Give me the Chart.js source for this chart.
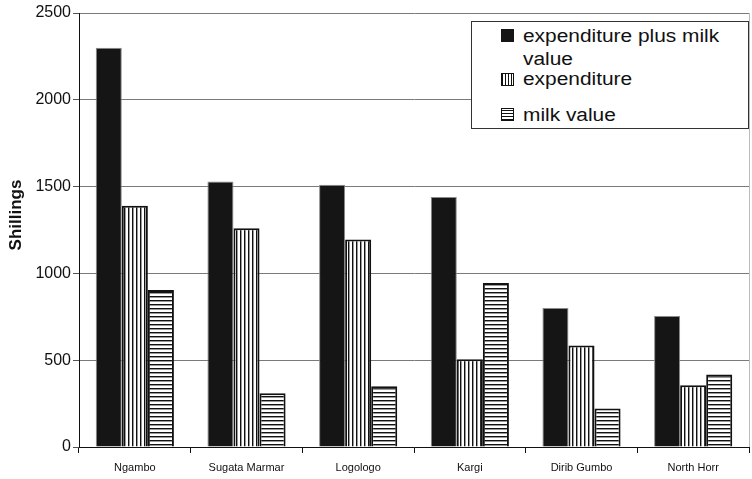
<!DOCTYPE html>
<html lang="en">
    <head>
        <meta charset="UTF-8" />
        <title>Shillings by site</title>
        <script src="https://cdn.jsdelivr.net/npm/chart.js"></script>
        <style>
            body {
                margin: 0;
                background: #fff;
            }
            #wrap {
                position: relative;
                width: 752px;
                height: 479px;
            }
            #legend {
                position: absolute;
                left: 471px;
                top: 21px;
                width: 276px;
                height: 106px;
                border: 1px solid #333;
                background: #fff;
                font-family: "Liberation Sans", Arial, sans-serif;
                font-size: 18px;
                color: #111;
            }
            #legend .txt {
                position: absolute;
                left: 51px;
                line-height: 18px;
                white-space: nowrap;
                transform: scaleX(1.16);
                transform-origin: left;
            }
            #legend .sw {
                position: absolute;
                left: 29px;
                width: 13px;
                height: 13px;
                box-sizing: border-box;
            }
        </style>
    </head>
    <body>
        <div id="wrap">
            <canvas id="myChart" width="752" height="479"></canvas>
            <div id="legend">
                <div class="sw" style="top: 7px; background: #151515"></div>
                <div class="txt" style="top: 5px">expenditure plus milk</div>
                <div class="txt" style="top: 28px">value</div>
                <div class="sw" style="top: 51px; border: 1px solid #111; background: repeating-linear-gradient(90deg, #111 0 1px, #fff 1px 3px)"></div>
                <div class="txt" style="top: 48px">expenditure</div>
                <div class="sw" style="top: 86px; border: 1px solid #111; background: repeating-linear-gradient(0deg, #111 0 1px, #fff 1px 3px)"></div>
                <div class="txt" style="top: 84px">milk value</div>
            </div>
        </div>
        <script>
            // values
            const sites = ["Ngambo", "Sugata Marmar", "Logologo", "Kargi", "Dirib Gumbo", "North Horr"];
            const totalValues = [2300, 1530, 1510, 1440, 800, 755];
            const expenditureValues = [1390, 1260, 1195, 505, 585, 355];
            const milkValues = [905, 310, 350, 945, 222, 418];
            const yTicks = [0, 500, 1000, 1500, 2000, 2500];
            const yTitle = "Shillings";

            // stripe fills
            function stripes(vertical) {
                const tile = document.createElement("canvas");
                tile.width = 4;
                tile.height = 4;
                const t = tile.getContext("2d");
                t.fillStyle = "#fff";
                t.fillRect(0, 0, 4, 4);
                t.fillStyle = "#111";
                if (vertical) t.fillRect(0, 0, 1, 4);
                else t.fillRect(0, 0, 4, 1);
                t.fillStyle = "#999";
                if (vertical) t.fillRect(1, 0, 1, 4);
                else t.fillRect(0, 1, 4, 1);
                return t.createPattern(tile, "repeat");
            }

            // right border line and the axis title
            const frame = {
                id: "frame",
                afterDraw(chart) {
                    const { ctx, chartArea } = chart;
                    ctx.save();
                    ctx.strokeStyle = "#bbb";
                    ctx.lineWidth = 1;
                    ctx.beginPath();
                    ctx.moveTo(chartArea.right + 0.5, chartArea.top);
                    ctx.lineTo(chartArea.right + 0.5, chartArea.bottom);
                    ctx.stroke();
                    ctx.translate(16, 215);
                    ctx.rotate(-Math.PI / 2);
                    ctx.fillStyle = "#111";
                    ctx.font = 'bold 17px "Liberation Sans", Arial, sans-serif';
                    ctx.textAlign = "center";
                    ctx.textBaseline = "middle";
                    ctx.fillText(yTitle, 0, 0);
                    ctx.restore();
                },
            };

            Chart.defaults.font.family = '"Liberation Sans", Arial, sans-serif';
            Chart.defaults.color = "#111";

            const ctx = document.getElementById("myChart").getContext("2d");
            const myChart = new Chart(ctx, {
                type: "bar",
                data: {
                    labels: sites,
                    datasets: [
                        {
                            label: "expenditure plus milk value",
                            data: totalValues,
                            backgroundColor: "#151515",
                            borderColor: "#8a8a8a",
                            borderWidth: 1,
                        },
                        {
                            label: "expenditure",
                            data: expenditureValues,
                            backgroundColor: stripes(true),
                            borderColor: "#111",
                            borderWidth: 2,
                        },
                        {
                            label: "milk value",
                            data: milkValues,
                            backgroundColor: stripes(false),
                            borderColor: "#111",
                            borderWidth: 2,
                        },
                    ],
                },
                options: {
                    responsive: false,
                    animation: false,
                    layout: { padding: { top: 13, right: 3, left: 0, bottom: 0 } },
                    datasets: {
                        bar: { barPercentage: 1, categoryPercentage: 0.7 },
                    },
                    plugins: {
                        legend: { display: false },
                        tooltip: { enabled: false },
                    },
                    scales: {
                        x: {
                            afterFit: (s) => { s.height = 32; },
                            border: { color: "#111", width: 1 },
                            grid: {
                                offset: true,
                                drawOnChartArea: false,
                                drawTicks: true,
                                tickLength: 6,
                                tickColor: "#111",
                            },
                            ticks: { font: { size: 11 }, padding: 8, maxRotation: 0 },
                        },
                        y: {
                            min: 0,
                            max: 2500,
                            afterFit: (s) => { s.width = 79; },
                            afterBuildTicks: (s) => { s.ticks = yTicks.map((v) => ({ value: v })); },
                            border: { color: "#111", width: 1 },
                            grid: {
                                color: "#7a7a7a",
                                tickLength: 6,
                                tickColor: "#555",
                            },
                            ticks: {
                                font: { size: 16 },
                                padding: 2,
                                callback: (v) => String(v),
                            },
                        },
                    },
                },
                plugins: [frame],
            });
        </script>
    </body>
</html>
